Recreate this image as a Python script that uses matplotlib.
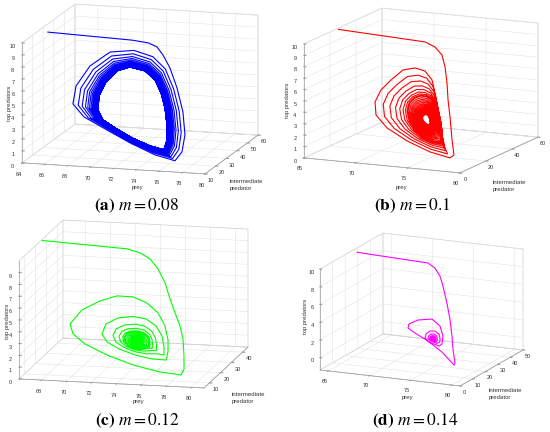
import numpy as np
import matplotlib
matplotlib.use("Agg")
import matplotlib.pyplot as plt

plt.rcParams["font.family"] = ["Liberation Sans", "DejaVu Sans"]
plt.rcParams["mathtext.fontset"] = "stix"
plt.rcParams["grid.color"] = "#e4e4e4"
plt.rcParams["grid.linewidth"] = 0.4

# orbits as (prey, intermediate predator, top predators)
# (a) m = 0.08: start, outermost ring, limit cycle, ring weights outer -> cycle
a_start = [(64.5, 29, 9.7), (71.9, 29, 9.45), (73.3, 29, 9.3), (73.95, 30, 8.94),
           (74.38, 31, 8.23), (74.99, 31, 7.18)]
a_outer = [(71.10, 40, 8.21), (73.03, 38, 7.87), (74.54, 34, 7.13), (75.70, 30, 5.62),
           (76.68, 25, 4.00), (77.32, 20, 2.45), (77.43, 16, 1.30), (77.10, 13, 0.73),
           (75.26, 14, 1.05), (72.79, 17, 1.72), (70.24, 21, 2.48), (67.94, 26, 3.02),
           (66.60, 30, 3.77), (66.50, 34, 5.00), (67.44, 37, 6.53), (69.01, 39, 7.65)]
a_cycle = [(70.66, 40, 6.43), (72.16, 38, 6.32), (73.40, 34, 5.90), (74.30, 30, 5.13),
           (75.11, 25, 4.25), (75.75, 20, 3.19), (76.12, 16, 2.22), (76.13, 13, 1.59),
           (74.82, 14, 1.78), (72.97, 17, 2.14), (71.11, 21, 2.61), (69.60, 26, 2.87),
           (68.79, 30, 3.39), (68.51, 34, 4.28), (68.84, 37, 5.27), (69.62, 39, 6.11)]
a_weights = [1.0, 0.79, 0.63, 0.5, 0.41, 0.34, 0.28, 0.23, 0.19, 0.16, 0.135, 0.115,
             0.1, 0.085, 0.072, 0.061, 0.052, 0.044, 0.037, 0.031, 0.026, 0.021,
             0.017, 0.013, 0.01, 0.007, 0.004, 0.002, 0.0, 0.0]

# (b) m = 0.1: start, first loop, edge of the dense core, equilibrium
b_start = [(65.2, 25, 9.98), (73.51, 25, 9.61), (74.47, 25, 9.25), (75.14, 25, 8.61),
           (75.56, 24, 7.65), (76.0, 22, 6.39), (76.35, 20, 5.03), (76.79, 18, 3.68),
           (77.36, 15, 1.87), (77.92, 12, 0.76)]
b_ring = [(77.54, 12, 0.47), (75.49, 13, 0.76), (73.03, 15, 1.41), (70.73, 18, 2.19),
          (69.30, 21, 3.04), (68.83, 24, 3.99), (69.15, 26, 4.96), (69.87, 28, 5.80),
          (70.89, 29, 6.71), (72.05, 29, 6.99), (73.13, 28, 6.87), (74.06, 26, 6.27),
          (74.82, 23, 4.91), (75.61, 19, 3.53), (76.27, 16, 2.16), (76.93, 13, 1.24)]
b_core = [(76.08, 16, 1.53), (75.40, 16, 1.56), (74.41, 17, 1.77), (73.52, 18, 2.26),
          (72.82, 19, 2.93), (72.50, 20, 3.73), (72.57, 21, 4.38), (72.92, 22, 4.80),
          (73.38, 23, 4.96), (73.95, 23, 4.93), (74.43, 23, 4.70), (74.94, 22, 4.28),
          (75.36, 21, 3.66), (75.67, 20, 2.95), (76.02, 18, 2.30), (76.05, 17, 1.74)]
b_center = (74.30, 20, 3.10)
b_weights = [1.0, 0.75, 0.55, 0.38, 0.25, 0.15, 0.08, 0.03]
b_sizes = [1.0, 0.93, 0.86, 0.8, 0.74, 0.68, 0.63, 0.58, 0.53, 0.49, 0.45, 0.41,
           0.38, 0.35, 0.32, 0.3, 0.28, 0.26, 0.24, 0.22]

# (c) m = 0.12
c_start = [(66.25, 25.5, 9.95), (73.04, 25.5, 9.59), (74.12, 25, 9.35), (74.92, 25, 8.88),
           (75.65, 24, 8.16), (76.30, 23, 7.09), (76.87, 21, 5.94), (77.45, 19, 4.96),
           (78.02, 17, 4.06), (78.44, 15, 3.15), (78.78, 12, 1.99), (78.96, 10, 1.07),
           (78.90, 8, 0.73), (77.13, 9, 0.81), (74.79, 11, 1.11), (72.45, 14, 1.57),
           (70.42, 17, 2.14), (69.2, 20, 2.67), (68.70, 23, 3.23), (69.39, 26, 4.19),
           (70.66, 28, 4.84), (71.93, 29, 5.25), (73.30, 28, 5.32), (74.59, 26, 5.05),
           (75.65, 24, 4.43), (76.47, 21, 3.63), (76.98, 18, 2.73), (77.15, 16, 1.90)]
c_ring = [(77.17, 14, 1.39), (75.96, 15, 1.33), (74.51, 16, 1.51), (73.06, 18, 1.77),
          (71.92, 20, 2.13), (71.34, 22, 2.60), (71.49, 24, 3.28), (72.36, 25, 3.75),
          (73.56, 25, 3.94), (74.69, 24, 3.87), (75.58, 23, 3.41), (76.23, 21, 2.77),
          (76.66, 18, 2.12), (76.83, 16, 1.63)]
c_core = [(75.38, 17, 2.14), (74.86, 17.5, 1.95), (74.26, 18, 1.91), (73.73, 19, 2.01),
          (73.40, 20, 2.20), (73.27, 21, 2.53), (73.38, 22, 2.71), (73.70, 22.5, 2.81),
          (74.18, 22.5, 2.83), (74.66, 22, 2.77), (75.03, 21, 2.63), (75.24, 20, 2.43),
          (75.33, 19, 2.22), (75.38, 18, 2.14)]
c_center = (74.30, 20, 2.39)
c_weights = [1.0, 0.52, 0.26, 0.1, 0.03]
c_sizes = [1.0, 0.85, 0.72, 0.6, 0.5, 0.41, 0.33, 0.26, 0.2, 0.15, 0.1, 0.06, 0.03]

# (d) m = 0.14
d_start = [(64.8, 24.3, 10.0), (73.44, 24, 9.73), (74.29, 24, 9.25), (75.05, 23, 8.51),
           (75.56, 22, 7.52), (76.35, 20, 5.85), (77.02, 18, 4.27), (77.73, 15, 2.67),
           (78.31, 12, 1.51), (79.01, 9, 0.25), (79.04, 8, 0.11), (77.43, 9, 1.32),
           (75.42, 11, 2.19), (73.54, 13, 2.73), (72.39, 15, 3.01), (72.20, 17, 3.28),
           (73.14, 18, 3.75), (74.84, 18, 4.04), (76.12, 16, 3.55), (76.79, 14, 2.66),
           (76.82, 13, 1.84)]
d_ring = [(76.45, 13, 1.57), (75.69, 14, 1.64), (74.94, 15, 1.70), (74.30, 16, 2.00),
          (74.27, 17, 2.37), (74.75, 17, 2.76), (75.36, 17, 2.82), (76.00, 16, 2.63),
          (76.27, 15, 2.29), (76.42, 14, 1.94)]
d_center = (75.42, 15, 2.09)
d_sizes = [1.0, 0.62, 0.42, 0.3, 0.22, 0.16, 0.11, 0.08, 0.05, 0.03, 0.015]

W, H = 550, 432
S = 240  # side of each square 3d axes in pixels
GREY = "#9a9a9a"
TEXT = "#333333"


def orbit(start, stages, first=0):
    # start, then loops shrinking from each ring towards its core
    parts = [np.asarray(start, float)]
    for n, (ring, core, weights) in enumerate(stages):
        ring = np.asarray(ring, float)
        core = np.asarray(core, float)
        for k, w in enumerate(weights):
            loop = core + w * (ring - core)
            parts.append(loop[first:] if n == 0 and k == 0 else loop)
    return np.vstack(parts)


panels = [
    dict(path=orbit(a_start, [(a_outer, a_cycle, a_weights)], first=3), color="#0000ff",
         lims=((64, 80), (10, 60), (0, 10)),
         ticks=(range(64, 81, 2), range(10, 61, 10), range(0, 11)),
         elev=12.1, azim=-74, box=(190.4, 192.3, 122.7), mid=(140, 89),
         cap=r"$\mathbf{(a)}\ m = 0.08$", cap_xy=(137, 206),
         prey=(137, 188), inter=(230, 185), top=(10, 103)),
    dict(path=orbit(b_start, [(b_ring, b_core, b_weights), (b_core, b_center, b_sizes)]),
         color="#ff0000", lims=((65, 80), (0, 60), (0, 10)),
         ticks=(range(65, 81, 5), range(0, 61, 20), range(0, 11)),
         elev=12.1, azim=-65.4, box=(171.6, 187.5, 116.6), mid=(421, 90.5),
         cap=r"$\mathbf{(b)}\ m = 0.1$", cap_xy=(412, 206),
         prey=(401, 187), inter=(493, 186), top=(288, 100)),
    dict(path=orbit(c_start, [(c_ring, c_core, c_weights), (c_core, c_center, c_sizes)]),
         color="#00ff00", lims=((66.2, 81), (5, 45), (0, 9.99)),
         ticks=(range(68, 81, 2), range(10, 41, 10), range(0, 10)),
         elev=12.3, azim=-77.1, box=(189.8, 197.0, 120.8), mid=(133.5, 304),
         cap=r"$\mathbf{(c)}\ m = 0.12$", cap_xy=(137, 421),
         prey=(138, 402), inter=(232, 398), top=(7, 321)),
    dict(path=orbit(d_start, [(d_ring, d_center, d_sizes)]), color="#ff00ff",
         lims=((64, 81), (0, 50), (-1.4, 10)),
         ticks=(range(65, 81, 5), range(0, 51, 10), range(0, 11, 2)),
         elev=14.8, azim=-65.9, box=(153.4, 154.3, 104.4), mid=(421.5, 309.5),
         cap=r"$\mathbf{(d)}\ m = 0.14$", cap_xy=(415, 421),
         prey=(407, 397), inter=(489, 394), top=(306, 316)),
]

fig = plt.figure(figsize=(W / 100, H / 100), dpi=100)


def put(xy, text, **kw):
    fig.text(xy[0] / W, 1 - xy[1] / H, text, **kw)


for p in panels:
    cx, cy = p["mid"]
    left = cx - 0.5135 * S
    bottom = (H - cy) - 0.5135 * S
    ax = fig.add_axes([left / W, bottom / H, S / W, S / H], projection="3d")
    ax.set_facecolor("none")
    ax.set_proj_type("ortho")
    ax.view_init(elev=p["elev"], azim=p["azim"])
    ax.set_box_aspect(p["box"], zoom=0.9708 * np.linalg.norm(p["box"]) / S)

    path = p["path"]
    ax.plot(path[:, 0], path[:, 1], path[:, 2], color=p["color"], lw=0.8)

    (x0, x1), (y0, y1), (z0, z1) = p["lims"]
    ax.set_xlim(x0, x1)
    ax.set_ylim(y0, y1)
    ax.set_zlim(z0, z1)
    ax.set_xticks(list(p["ticks"][0]))
    ax.set_yticks(list(p["ticks"][1]))
    ax.set_zticks(list(p["ticks"][2]))
    ax.tick_params(labelsize=4, labelcolor=TEXT, color=GREY)
    ax.tick_params(axis="x", pad=-3)
    ax.tick_params(axis="y", pad=-5)
    ax.tick_params(axis="z", pad=-4.5)
    # keep the vertical axis on the front left edge, as in the original
    ax.zaxis._axinfo["juggled"] = (1, 2, 0)

    for axis in (ax.xaxis, ax.yaxis, ax.zaxis):
        axis.pane.fill = False
        axis.pane.set_edgecolor(GREY)
        axis.pane.set_linewidth(0.5)
        axis.line.set_color(GREY)
        axis.line.set_linewidth(0.5)
        axis._axinfo["grid"]["color"] = "#e4e4e4"
        axis._axinfo["grid"]["linewidth"] = 0.4
        axis._axinfo["tick"]["inward_factor"] = 0.15
        axis._axinfo["tick"]["outward_factor"] = 0.0

    put(p["prey"], "prey", fontsize=4.3, ha="center", va="center", color=TEXT)
    put(p["inter"], "intermediate\npredator", fontsize=4.3, ha="left", va="center",
        color=TEXT, linespacing=1.6)
    put(p["top"], "top predators", fontsize=4.3, ha="center", va="center",
        rotation=90, color=TEXT)
    put(p["cap_xy"], p["cap"], fontsize=12.5, ha="center", va="center",
        fontfamily="STIXGeneral")

fig.savefig("out.png", dpi=100)
